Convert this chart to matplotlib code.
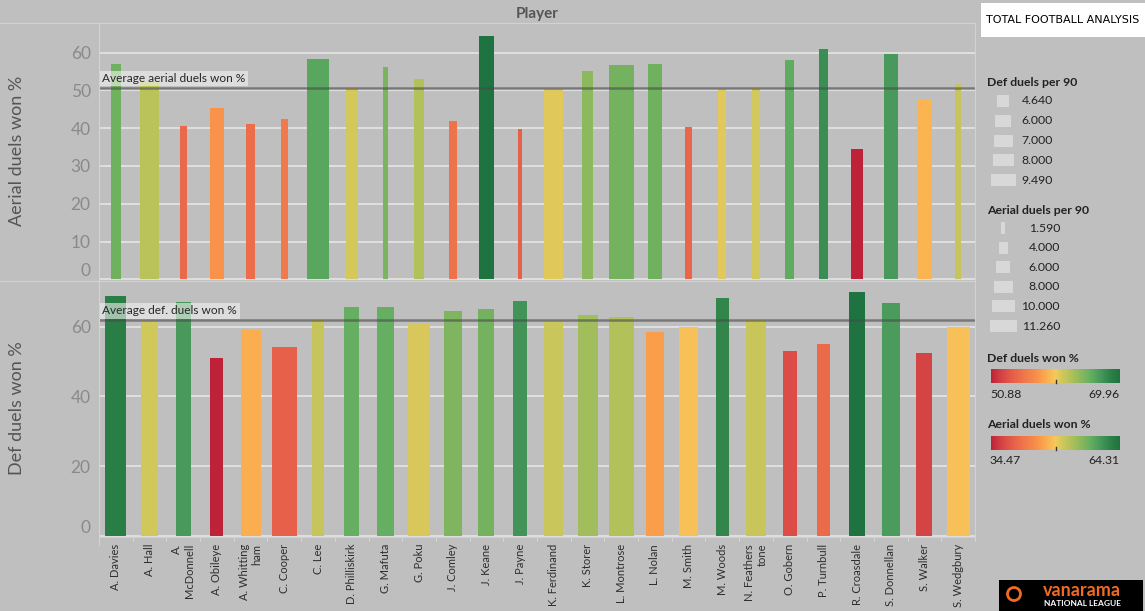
import numpy as np
import matplotlib.pyplot as plt
from matplotlib.colors import LinearSegmentedColormap, Normalize
from matplotlib.patches import Rectangle, Circle

plt.rcParams['font.family'] = ['Lato', 'DejaVu Sans']

players = ["A. Davies", "A. Hall", "A.\nMcDonnell", "A. Obileye", "A. Whitting\nham", "C. Cooper",
           "C. Lee", "D. Philliskirk", "G. Mafuta", "G. Poku", "J. Comley", "J. Keane", "J. Payne",
           "K. Ferdinand", "K. Storer", "L. Montrose", "L. Nolan", "M. Smith", "M. Woods",
           "N. Feathers\ntone", "O. Gobern", "P. Turnbull", "R. Croasdale", "S. Donnellan",
           "S. Walker", "S. Wedgbury"]

aerial_won = [56.9, 52.5, 40.6, 45.3, 41.0, 42.4, 58.4, 50.7, 56.2, 53.0, 41.8, 64.31, 39.7,
              50.3, 55.2, 56.6, 56.9, 40.2, 50.3, 50.8, 57.9, 60.9, 34.47, 59.7, 47.8, 51.7]
aerial_per90 = [4.7, 8.6, 3.0, 6.4, 4.4, 3.0, 10.1, 5.5, 2.6, 4.2, 3.6, 7.1, 1.59,
                8.6, 4.9, 11.26, 6.4, 2.9, 3.5, 3.8, 4.2, 3.8, 5.5, 6.4, 6.5, 3.0]
def_won = [68.9, 61.4, 67.0, 50.88, 59.1, 54.1, 61.9, 65.6, 65.6, 61.2, 64.6, 65.0, 67.4,
           61.7, 63.4, 62.7, 58.4, 60.0, 68.3, 61.8, 53.0, 54.9, 69.96, 66.9, 52.5, 60.0]
def_per90 = [8.0, 6.65, 5.5, 4.9, 7.5, 9.4, 4.8, 5.5, 6.65, 8.15, 6.65, 6.0, 5.3,
             7.1, 7.5, 9.49, 6.5, 7.0, 4.9, 7.8, 5.15, 4.64, 6.0, 6.9, 6.0, 8.6]

def_legend = [4.64, 6.0, 7.0, 8.0, 9.49]
aerial_legend = [1.59, 4.0, 6.0, 8.0, 10.0, 11.26]

cmap = LinearSegmentedColormap.from_list('rg', [
    (0.0, '#be2239'), (0.085, '#d64545'), (0.17, '#e6604a'), (0.25, '#f0754a'),
    (0.36, '#f9924a'), (0.44, '#fbb150'), (0.5, '#f5c95c'), (0.55, '#d2c85b'),
    (0.62, '#b2c15a'), (0.7, '#8ab85e'), (0.78, '#62ad61'), (0.86, '#43955a'),
    (0.94, '#2a7f45'), (1.0, '#1e7340')])

bg = '#bfbfbf'
W, H = 1145, 611
left_px, right_px = 99, 975
cat_px = (right_px - left_px) / len(players)
aer_px_per_unit = 2.2
def_px_per_unit = 2.66

fig = plt.figure(figsize=(W / 100, H / 100), dpi=100, facecolor=bg)

x = np.arange(len(players))


def panel(top, bottom, values, sizes, px_per_unit, ylim, ticks, avg_label):
    ax = fig.add_axes([left_px / W, (H - bottom) / H, (right_px - left_px) / W, (bottom - top) / H])
    ax.set_facecolor('none')
    norm = Normalize(min(values), max(values))
    widths = np.array(sizes) * px_per_unit / cat_px
    ax.bar(x, values, width=widths, color=cmap(norm(np.array(values))), zorder=2)
    ax.set_xlim(-0.5, len(players) - 0.5)
    ax.set_ylim(*ylim)
    ax.set_yticks(ticks, labels=[str(t) for t in ticks])
    ax.get_yticklabels()[0].set_va('bottom')
    ax.tick_params(axis='y', length=0, labelsize=12.5, labelcolor='#8a8a8a', pad=6)
    ax.yaxis.grid(True, color='#e2e2e2', lw=1.3)
    ax.set_axisbelow(True)
    for s in ax.spines.values():
        s.set_visible(False)
    avg = np.mean(values)
    ax.axhline(avg, color='#4a4a4a', lw=1.8, alpha=0.6, zorder=3)
    ax.annotate(avg_label, xy=(0, avg), xycoords=('axes fraction', 'data'),
                xytext=(2.5, 3), textcoords='offset points', fontsize=8.6, color='#262626',
                ha='left', va='bottom', zorder=4,
                bbox=dict(boxstyle='square,pad=0.2', fc='#f2f2f2', alpha=0.6, ec='none'))
    return ax


ax1 = panel(23, 281, aerial_won, aerial_per90, aer_px_per_unit, (-0.4, 67.8),
            list(range(0, 61, 10)), "Average aerial duels won %")
ax1.set_xticks([])

ax2 = panel(281, 537, def_won, def_per90, def_px_per_unit, (-0.3, 73.1),
            [0, 20, 40, 60], "Average def. duels won %")
ax2.set_xticks(x)
ax2.set_xticklabels(players, rotation=90, ha='center', va='top', ma='right',
                    fontsize=8, color='#2e2e2e')
ax2.set_xticks(np.arange(-0.5, len(players)), minor=True)
ax2.tick_params(axis='x', which='major', length=0, pad=5)
ax2.tick_params(axis='x', which='minor', length=3, color='#dcdcdc')
ax2.spines['bottom'].set_visible(True)
ax2.spines['bottom'].set_color('#d0d0d0')

fig.text(17 / W, 1 - 151 / H, "Aerial duels won %", rotation=90, ha='center', va='center',
         fontsize=13, color='#555555')
fig.text(17 / W, 1 - 408 / H, "Def duels won %", rotation=90, ha='center', va='center',
         fontsize=13, color='#555555')
fig.text(537 / W, 1 - 14 / H, "Player", ha='center', va='center', fontsize=11,
         fontweight='bold', color='#555555')

# overlay in pixel coordinates for frame lines and the legends
ov = fig.add_axes([0, 0, 1, 1])
ov.set_facecolor('none')
ov.axis('off')
line_c = '#d2d2d2'
ov.plot([0, right_px], [23, 23], color=line_c, lw=0.8)
ov.plot([0, right_px], [281, 281], color=line_c, lw=0.8)
ov.plot([left_px, left_px], [23, 545], color=line_c, lw=0.8)
ov.plot([right_px, right_px], [23, 537], color=line_c, lw=0.8)

# logo top right
ov.add_patch(Rectangle((981, 3), 164, 34, fc='white', ec='none'))
ov.text(1063, 20, "TOTAL FOOTBALL ANALYSIS", ha='center', va='center', fontsize=8,
        family='DejaVu Sans', color='black')

# size legends
txt_c = '#222222'
ov.text(987, 83, "Def duels per 90", fontsize=8.8, fontweight='bold', color=txt_c, va='center')
for i, v in enumerate(def_legend):
    y = 101 + i * 19.8
    w = v * def_px_per_unit
    ov.add_patch(Rectangle((1003.3 - w / 2, y - 6), w, 12, fc='#d8d8d8', ec='none'))
    ov.text(1053, y, f"{v:.3f}", fontsize=8.8, color=txt_c, ha='right', va='center')

ov.text(987, 211, "Aerial duels per 90", fontsize=8.8, fontweight='bold', color=txt_c, va='center')
for i, v in enumerate(aerial_legend):
    y = 228 + i * 19.6
    w = v * 2.35
    ov.add_patch(Rectangle((1003.3 - w / 2, y - 6), w, 12, fc='#d8d8d8', ec='none'))
    ov.text(1060, y, f"{v:.3f}", fontsize=8.8, color=txt_c, ha='right', va='center')

# colour legends
grad = np.linspace(0, 1, 256)[None, :]
for title, vals, ty in [("Def duels won %", def_won, 358), ("Aerial duels won %", aerial_won, 425)]:
    ov.text(987, ty, title, fontsize=8.8, fontweight='bold', color=txt_c, va='center')
    y0 = ty + 11
    ov.imshow(grad, cmap=cmap, extent=(990.7, 1119.3, y0 + 14, y0), aspect='auto')
    ov.plot([1056, 1056], [y0 + 11, y0 + 14], color='#333333', lw=1)
    ov.text(990, y0 + 25, f"{min(vals):.2f}", fontsize=8.8, color=txt_c, ha='left', va='center')
    ov.text(1119.3, y0 + 25, f"{max(vals):.2f}", fontsize=8.8, color=txt_c, ha='right', va='center')

# vanarama logo bottom right
ov.add_patch(Rectangle((999, 580), 144, 31, fc='black', ec='none'))
ov.add_patch(Circle((1014, 594), 6.5, fc='none', ec='#f26a21', lw=2))
ov.text(1082, 591, "vanarama", ha='center', va='center', fontsize=13, fontweight='bold',
        color='#f26a21')
ov.text(1082, 604, "NATIONAL LEAGUE", ha='center', va='center', fontsize=6, fontweight='bold',
        color='white')

ov.set_xlim(0, W)
ov.set_ylim(H, 0)

fig.savefig('out.png', dpi=100, facecolor=bg)
